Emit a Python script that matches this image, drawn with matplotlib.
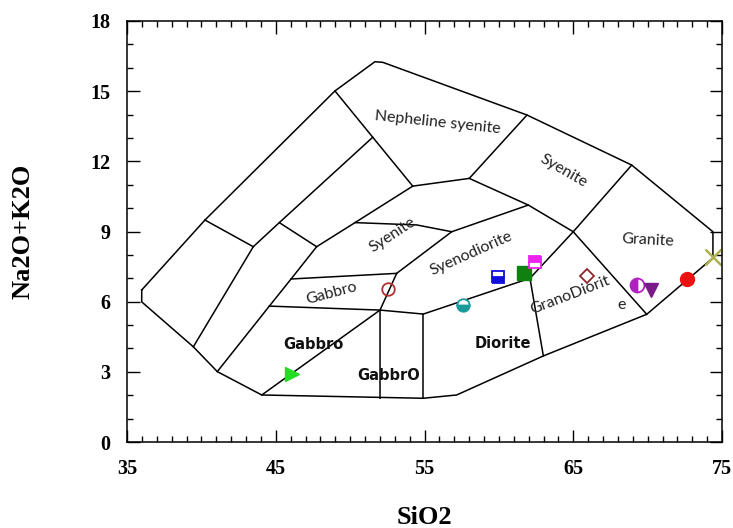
import numpy as np
import matplotlib
matplotlib.use('Agg')
import matplotlib.pyplot as plt
from matplotlib.ticker import MultipleLocator, FixedLocator

# outer envelope of the classification fields (SiO2, Na2O+K2O)
outer_x = [35.99, 40.24, 48.98, 51.67, 52.21, 61.89, 68.93, 74.39, 74.39, 69.94,
           62.99, 57.16, 54.92, 44.06, 41.07, 39.46, 35.99, 35.99]
outer_y = [6.50, 9.49, 15.01, 16.26, 16.23, 13.98, 11.84, 8.99, 7.87, 5.46,
           3.68, 2.01, 1.87, 2.01, 3.01, 4.07, 5.99, 6.50]

# inner field boundaries
inner_lines = [
    ([40.24, 43.49], [9.49, 8.35]),
    ([39.46, 43.49, 45.24, 51.52], [4.07, 8.35, 9.38, 13.03]),
    ([45.24, 47.75], [9.38, 8.35]),
    ([41.07, 44.57, 46.03, 47.75, 50.33, 54.21], [3.01, 5.81, 6.97, 8.35, 9.38, 10.94]),
    ([48.98, 51.52, 54.21], [15.01, 13.03, 10.94]),
    ([54.21, 58.01, 61.89], [10.94, 11.27, 13.98]),
    ([58.01, 61.98, 65.0, 68.93], [11.27, 10.13, 8.99, 11.84]),
    ([65.0, 69.94], [8.99, 5.46]),
    ([65.0, 62.09, 62.99], [8.99, 7.0, 3.68]),
    ([50.33, 54.48, 56.83, 61.98], [9.38, 9.28, 8.99, 10.13]),
    ([56.83, 53.13, 52.01, 52.01], [8.99, 7.21, 5.64, 1.87]),
    ([46.03, 53.13], [6.97, 7.21]),
    ([44.57, 52.01, 54.92, 62.09], [5.81, 5.64, 5.47, 7.0]),
    ([54.92, 54.92], [5.47, 1.87]),
    ([44.06, 52.01], [2.01, 5.64]),
]

# field names: text, x, y, rotation, bold
field_names = ['Nepheline syenite', 'Syenite', 'Granite', 'Syenite', 'Syenodiorite',
               'Gabbro', 'GranoDiorit', 'e', 'Gabbro', 'GabbrO', 'Diorite']
field_x = [55.91, 64.38, 70.03, 52.88, 58.13, 48.76, 64.78, 68.26, 47.52, 52.57, 60.3]
field_y = [13.64, 11.59, 8.64, 8.85, 8.04, 6.36, 6.28, 5.86, 4.19, 2.83, 4.22]
field_rot = [-6, -30, -3, 33, 24, 15, 21, 0, 0, 0, 0]
field_bold = [False] * 8 + [True] * 3

# samples
sio2 = [46.07, 52.53, 57.61, 59.96, 61.69, 62.43, 65.95, 69.26, 70.2, 72.63, 74.42]
alkali = [2.91, 6.53, 5.86, 7.04, 7.24, 7.71, 7.1, 6.71, 6.5, 6.96, 7.9]
markers = ['>', 'o', 'o', 's', 's', 's', 'D', 'o', 'v', 'o', 'x']
colors = ['#22dd22', '#b03030', '#1a9a9a', '#1010dd', '#108010', '#ee22ee',
          '#8b2a2a', '#b020c0', '#7a1a8a', '#ee1111', '#b0b050']
fills = ['full', 'none', 'bottom', 'bottom', 'full', 'top', 'none', 'left', 'full', 'full', 'full']
sizes = [10, 9, 9, 9, 10, 9, 7, 10, 10, 10, 11]

xticks = [35, 45, 55, 65, 75]

fig = plt.figure(figsize=(7.33, 5.28), dpi=100)
ax = fig.add_axes([127 / 733, 86 / 528, 595 / 733, 421 / 528])

ax.plot(outer_x, outer_y, color='black', lw=1.1)
for lx, ly in inner_lines:
    ax.plot(lx, ly, color='black', lw=1.1)

for t, x, y, r, b in zip(field_names, field_x, field_y, field_rot, field_bold):
    if b:
        ax.text(x, y, t, fontsize=10.5, fontweight='bold', family='DejaVu Sans',
                color='#111111', ha='center', va='center')
    else:
        ax.text(x, y, t, fontsize=11.5, family='Lato', color='#222222',
                ha='center', va='center', rotation=r, rotation_mode='anchor')

for x, y, m, c, f, s in zip(sio2, alkali, markers, colors, fills, sizes):
    if f == 'none':
        ax.plot(x, y, marker=m, ms=s, mfc='none', mec=c, mew=1.3, ls='none')
    elif m == 'x':
        ax.plot(x, y, marker=m, ms=s, color=c, mew=1.8, ls='none')
    elif f == 'full':
        ax.plot(x, y, marker=m, ms=s, color=c, mec=c, ls='none')
    else:
        ax.plot(x, y, marker=m, ms=s, fillstyle=f, color=c, mfc=c,
                mfcalt='white', mec=c, mew=1.3, ls='none')

ax.set_xlim(35, 75)
ax.set_ylim(0, 18)
ax.xaxis.set_major_locator(FixedLocator(xticks))
ax.xaxis.set_minor_locator(MultipleLocator(1))
ax.yaxis.set_major_locator(MultipleLocator(3))
ax.yaxis.set_minor_locator(MultipleLocator(1))
ax.tick_params(which='both', direction='in', top=True, right=True, width=1.0)
ax.tick_params(which='major', length=9, pad=12)
ax.tick_params(which='minor', length=4.5)
for sp in ax.spines.values():
    sp.set_linewidth(1.1)

for lab in ax.get_xticklabels() + ax.get_yticklabels():
    lab.set_family('Liberation Serif')
    lab.set_fontweight('bold')
    lab.set_fontsize(14.5)

ax.set_xlabel('SiO2', family='Liberation Serif', fontweight='bold', fontsize=19, labelpad=20)
ax.set_ylabel('Na2O+K2O', family='Liberation Serif', fontweight='bold', fontsize=19, labelpad=40)

fig.savefig('out.png', dpi=100)
